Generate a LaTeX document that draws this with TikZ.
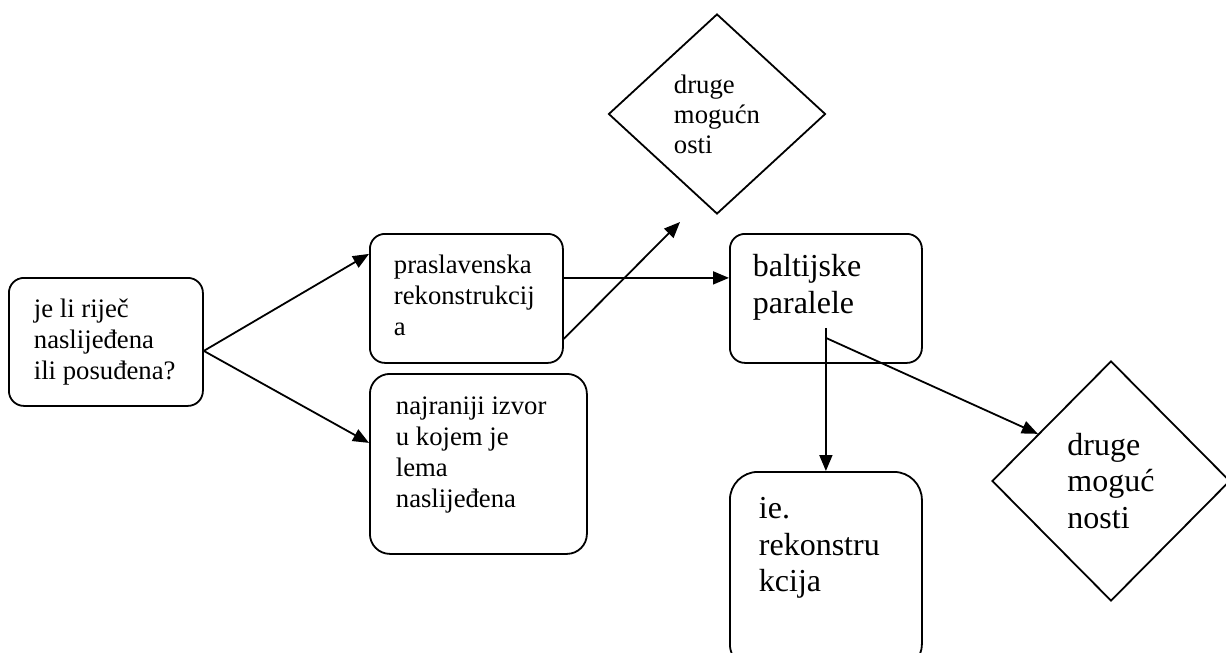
\documentclass[tikz,border=0pt]{standalone}
\usepackage{fontspec}
\setmainfont{Liberation Serif}
\usetikzlibrary{shapes.geometric,arrows.meta,calc}
% tekst u okviru: sirina, visina, prva linija, sadrzaj
\newcommand{\okvirtxt}[4]{\parbox[t][#2pt][t]{#1pt}{\raggedright\rule{0pt}{#3pt}#4}}
\tikzset{
  stepbox/.style={draw, line width=1.8pt, rounded corners=15pt, anchor=north west,
    inner ysep=0pt, inner xsep=25pt},
  odluka/.style={draw, shape=diamond, line width=1.8pt, inner sep=0pt, align=left},
  sitno/.style={font=\fontsize{26.7}{31}\selectfont},
  krupno/.style={font=\fontsize{32}{36.5}\selectfont},
  strelica/.style={line width=1.8pt, -{Triangle[length=16pt,width=13pt]}}
}
\begin{document}
\begin{tikzpicture}[x=1pt,y=-1pt]
	\useasboundingbox (0,0) rectangle (1226,653);
	% Okviri
	\node[stepbox, sitno] (pitanje) at (8,277) {\okvirtxt{144}{128}{40}{je li riječ\\ naslijeđena\\ ili posuđena?}};
	\node[stepbox, sitno, inner xsep=24pt] (praslav) at (369,233) {\okvirtxt{145}{129}{40}{praslavenska\\ rekonstrukcij\\ a}};
	\node[stepbox, sitno, inner xsep=26pt, rounded corners=20pt] (izvor) at (369,373) {\okvirtxt{165}{180}{41}{najraniji izvor\\ u kojem je\\ lema\\ naslijeđena}};
	\node[stepbox, krupno, inner xsep=23pt] (balt) at (729,233) {\okvirtxt{146}{129}{43}{baltijske\\ paralele}};
	\node[stepbox, krupno, inner xsep=29pt, rounded corners=28pt] (ie) at (729,471) {\okvirtxt{134}{200}{47}{ie.\\ rekonstru\\ kcija}};
	% Rombovi
	\node[odluka, font=\fontsize{26.7}{30}\selectfont, minimum width=217pt, minimum height=200pt] (druge1) at (717,114) {druge\\ mogućn\\ osti};
	\node[odluka, krupno, minimum width=238pt, minimum height=240pt] (druge2) at (1111,481) {druge\\ moguć\\ nosti};
	% Strelice
	\coordinate (gore) at (680,222);
	\draw[strelica] ([yshift=-9pt]pitanje.east) -- ([yshift=44.5pt]praslav.west);
	\draw[strelica] ([yshift=-9pt]pitanje.east) -- ([yshift=21pt]izvor.west);
	\draw[strelica] ([yshift=20.5pt]praslav.east) -- ([yshift=20.5pt]balt.west);
	\draw[strelica] ([yshift=-40.5pt]praslav.east) -- (gore);
	\draw[strelica] ([yshift=-29.5pt]balt.center) -- (ie.north);
	\draw[strelica] ([yshift=-39.5pt]balt.center) -- ($(druge2.west)!0.39!(druge2.north)$);
\end{tikzpicture}
\end{document}
